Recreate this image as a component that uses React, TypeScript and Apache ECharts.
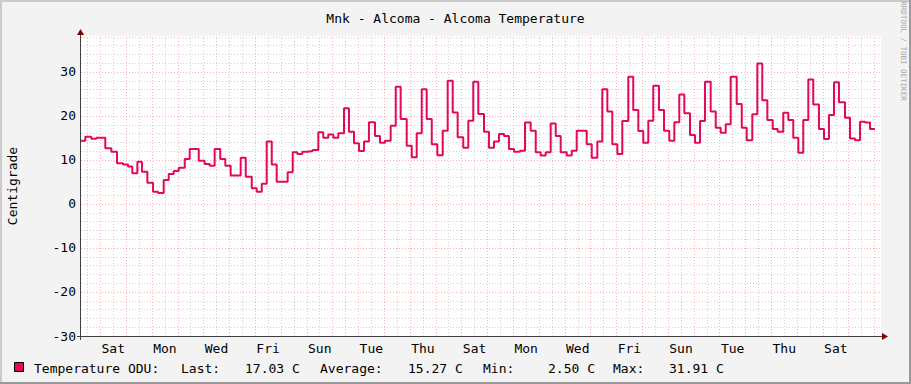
import React, { useEffect, useRef } from 'react';
import * as echarts from 'echarts';

const TITLE = 'Mnk - Alcoma - Alcoma Temperature';
const Y_NAME = 'Centigrade';
const SERIES_NAME = 'Temperature ODU:';
const WATERMARK = 'RRDTOOL / TOBI OETIKER';

// hours since graph start (Friday ~06:00); each value holds until the next time
const times = [
  0, 4.0, 9.6, 14.2, 22.6, 28.2, 33.5, 39.1, 43.7, 47.7,
  52.4, 56.7, 61.7, 67.0, 71.6, 76.9, 81.6, 86.2, 90.9, 96.5,
  101.1, 109.5, 115.0, 119.7, 124.3, 129.5, 134.2, 139.2, 148.5, 153.2,
  158.8, 163.4, 168.1, 172.7, 177.4, 182.0, 192.2, 196.9, 201.2, 205.8,
  210.5, 215.5, 220.7, 225.3, 230.0, 234.6, 239.3, 244.6, 249.2, 253.9,
  258.5, 263.2, 267.8, 273.4, 278.1, 282.7, 288.0, 292.7, 297.3, 302.9,
  307.6, 312.2, 316.9, 321.5, 326.2, 331.4, 336.4, 341.0, 345.7, 350.3,
  355.5, 360.2, 364.8, 369.5, 374.8, 379.4, 384.1, 388.7, 393.4, 398.0,
  402.7, 408.3, 412.9, 418.2, 422.9, 427.5, 432.2, 436.8, 441.5, 446.1,
  451.7, 456.4, 461.0, 470.3, 475.0, 480.2, 484.8, 489.5, 494.1, 498.8,
  503.4, 509.0, 513.6, 518.3, 522.9, 527.6, 532.2, 537.5, 542.2, 547.1,
  551.8, 556.4, 561.1, 566.4, 571.0, 575.7, 580.3, 585.6, 590.3, 594.9,
  599.6, 604.2, 609.8, 614.5, 619.1, 624.3, 629.0, 633.6, 638.3, 643.3,
  647.9, 653.1, 657.8, 662.4, 667.1, 671.7, 676.4, 681.0, 686.3, 691.0,
  695.6, 700.3, 704.9, 710.5, 715.2, 719.8, 724.5, 729.1, 733.8, 738.4,
];

const temps = [
  14.4, 15.3, 14.85, 15.07, 12.65, 11.9, 9.24, 9.0, 8.5, 7.0,
  9.6, 7.35, 4.85, 2.8, 2.5, 5.45, 6.8, 7.5, 8.25, 10.2,
  12.5, 9.85, 9.1, 8.7, 12.5, 10.2, 8.7, 6.45, 10.5, 6.2,
  3.56, 2.8, 4.6, 14.2, 9.0, 5.07, 7.2, 11.75, 11.36, 11.9,
  12.05, 12.27, 16.3, 15.07, 15.8, 15.07, 16.06, 21.75, 16.4, 13.8,
  12.05, 14.2, 18.56, 15.45, 13.9, 14.4, 17.8, 26.67, 19.3, 13.26,
  10.6, 16.06, 26.1, 19.3, 13.6, 11.1, 16.67, 28.0, 20.8, 15.15,
  12.8, 18.94, 27.8, 20.45, 16.4, 12.8, 14.2, 15.9, 15.45, 12.5,
  11.9, 12.1, 18.5, 16.67, 11.75, 11.0, 11.75, 18.3, 15.45, 11.75,
  11.0, 12.1, 16.67, 13.6, 10.5, 14.2, 26.1, 21.0, 13.6, 11.36,
  18.86, 28.9, 21.36, 16.6, 13.9, 18.9, 26.9, 21.36, 16.67, 14.4,
  18.56, 24.9, 20.6, 15.7, 13.9, 18.86, 27.8, 21.0, 17.35, 16.2,
  18.1, 28.9, 22.7, 17.35, 14.5, 20.4, 31.91, 23.6, 19.1, 17.05,
  16.4, 20.75, 19.1, 15.07, 11.66, 19.1, 28.3, 22.6, 17.05, 14.77,
  20.2, 27.65, 23.1, 19.6, 14.9, 14.5, 18.7, 18.5, 17.03, 17.03,
];

// x-axis labels: noon of every second day
const dayLabels = ['Sat', 'Mon', 'Wed', 'Fri', 'Sun', 'Tue', 'Thu', 'Sat', 'Mon', 'Wed', 'Fri', 'Sun', 'Tue', 'Thu', 'Sat'];
const labelHours = [30, 78, 126, 174, 222, 270, 318, 366, 414, 462, 510, 558, 606, 654, 702];
const yTicks = [-30, -20, -10, 0, 10, 20, 30];

const STAT_LAST = '17.03';
const STAT_AVG = '15.27';
const STAT_MIN = '2.50';
const STAT_MAX = '31.91';

const X_MAX = 744;
const Y_MIN = -30;
const Y_MAX = 38.18;

const FONT = '"DejaVu Sans Mono", monospace';
const LINE_COLOR = '#E3085C';
const GRID_GREY = 'rgba(150,150,150,0.45)';
const GRID_RED = 'rgba(240,70,70,0.4)';

export default function App() {
  const ref = useRef<HTMLDivElement>(null);

  useEffect(() => {
    if (!ref.current) return;
    const chart = echarts.init(ref.current, null, { renderer: 'svg' });

    const vMinor: any[] = [];
    const vMajor: any[] = [];
    for (let h = 6; h < X_MAX; h += 24) vMinor.push({ xAxis: h });
    for (let h = 18; h < X_MAX; h += 24) vMajor.push({ xAxis: h });
    const hMinor: any[] = [];
    for (let v = Y_MIN + 2; v <= Y_MAX; v += 2) if (v % 10 !== 0) hMinor.push({ yAxis: v });
    const hMajor = yTicks.filter((v) => v !== Y_MIN).map((v) => ({ yAxis: v }));

    const markCommon = {
      silent: true,
      symbol: ['none', 'none'],
      label: { show: false },
      emphasis: { disabled: true },
      animation: false,
    };

    const txt = (text: string, x: number, y: number, extra: any = {}) => ({
      type: 'text',
      x,
      y,
      z: 100,
      silent: true,
      style: {
        text,
        fill: '#000',
        font: `13px ${FONT}`,
        verticalAlign: 'middle',
        align: 'left',
        ...extra,
      },
    });

    const option: any = {
      animation: false,
      backgroundColor: '#F3F3F3',
      title: {
        text: TITLE,
        left: 'center',
        top: 7,
        textStyle: { fontFamily: FONT, fontSize: 13, fontWeight: 'normal', color: '#000' },
      },
      grid: {
        left: 81,
        top: 36,
        width: 800,
        height: 300,
        show: true,
        backgroundColor: '#FFFFFF',
        borderWidth: 0,
      },
      xAxis: {
        type: 'value',
        min: 0,
        max: X_MAX,
        axisLine: { show: false },
        axisTick: { show: false },
        splitLine: { show: false },
        axisLabel: {
          customValues: labelHours,
          formatter: (v: number) => {
            const i = labelHours.indexOf(Math.round(v));
            return i >= 0 ? dayLabels[i] : '';
          },
          margin: 6,
          fontFamily: FONT,
          fontSize: 13,
          color: '#000',
        },
      },
      yAxis: {
        type: 'value',
        min: Y_MIN,
        max: Y_MAX,
        interval: 10,
        axisLine: { show: false },
        axisTick: { show: false },
        splitLine: { show: false },
        axisLabel: {
          formatter: (v: number) => (yTicks.indexOf(v) >= 0 ? String(v) : ''),
          margin: 5,
          fontFamily: FONT,
          fontSize: 13,
          color: '#000',
        },
      },
      series: [
        {
          type: 'line',
          data: [[0, 0]],
          showSymbol: false,
          lineStyle: { opacity: 0 },
          silent: true,
          z: 1,
          markLine: {
            ...markCommon,
            lineStyle: { color: GRID_GREY, type: [1, 2], width: 1 },
            data: [...vMinor, ...hMinor],
          },
        },
        {
          type: 'line',
          data: [[0, 0]],
          showSymbol: false,
          lineStyle: { opacity: 0 },
          silent: true,
          z: 2,
          markLine: {
            ...markCommon,
            lineStyle: { color: GRID_RED, type: [1, 2], width: 1 },
            data: [...vMajor, ...hMajor],
          },
        },
        {
          name: SERIES_NAME,
          type: 'line',
          step: 'end',
          data: times.map((t, i) => [t, temps[i]]),
          showSymbol: false,
          silent: true,
          z: 5,
          lineStyle: { color: LINE_COLOR, width: 2 },
          emphasis: { disabled: true },
        },
      ],
      graphic: [
        { type: 'rect', z: 100, silent: true, shape: { x: 0, y: 0, width: 2, height: 384 }, style: { fill: '#CBCBCB' } },
        { type: 'rect', z: 100, silent: true, shape: { x: 0, y: 0, width: 911, height: 2 }, style: { fill: '#CBCBCB' } },
        { type: 'rect', z: 100, silent: true, shape: { x: 909, y: 0, width: 2, height: 384 }, style: { fill: '#999999' } },
        { type: 'rect', z: 100, silent: true, shape: { x: 0, y: 382, width: 911, height: 2 }, style: { fill: '#999999' } },
        { type: 'line', z: 100, silent: true, shape: { x1: 77, y1: 336.5, x2: 884, y2: 336.5 }, style: { stroke: '#404040', lineWidth: 1 } },
        { type: 'line', z: 100, silent: true, shape: { x1: 80.5, y1: 340, x2: 80.5, y2: 33 }, style: { stroke: '#404040', lineWidth: 1 } },
        { type: 'polygon', z: 101, silent: true, shape: { points: [[888, 336.5], [882, 333], [882, 340]] }, style: { fill: '#7F0000' } },
        { type: 'polygon', z: 101, silent: true, shape: { points: [[80.5, 29], [77, 35], [84, 35]] }, style: { fill: '#7F0000' } },
        {
          type: 'text',
          x: 12,
          y: 186,
          rotation: Math.PI / 2,
          z: 100,
          silent: true,
          style: { text: Y_NAME, fill: '#000', font: `13px ${FONT}`, align: 'center', verticalAlign: 'middle' },
        },
        {
          type: 'text',
          x: 903,
          y: 51,
          rotation: -Math.PI / 2,
          z: 100,
          silent: true,
          style: { text: WATERMARK, fill: '#A8A8A8', font: `7.5px ${FONT}`, align: 'center', verticalAlign: 'middle' },
        },
        { type: 'rect', z: 100, silent: true, shape: { x: 14.5, y: 362.5, width: 9, height: 9 }, style: { fill: LINE_COLOR, stroke: '#000', lineWidth: 1 } },
        txt(SERIES_NAME, 34, 368),
        txt('Last:', 181, 368),
        txt(`${STAT_LAST} C`, 245, 368),
        txt('Average:', 320, 368),
        txt(`${STAT_AVG} C`, 408, 368),
        txt('Min:', 483, 368),
        txt(`${STAT_MIN} C`, 548, 368),
        txt('Max:', 613, 368),
        txt(`${STAT_MAX} C`, 669, 368),
      ],
    };

    chart.setOption(option);
    return () => chart.dispose();
  }, []);

  return <div ref={ref} style={{ position: 'absolute', left: 0, top: 0, width: 911, height: 384 }} />;
}
